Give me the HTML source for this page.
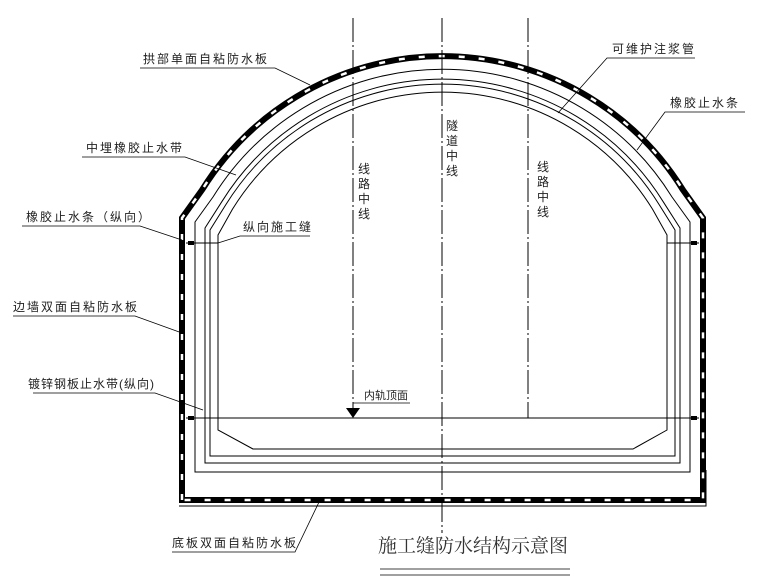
<!DOCTYPE html>
<html><head><meta charset="utf-8"><style>
html,body{margin:0;padding:0;background:#fff;}
svg{display:block;}
text{font-family:"Liberation Sans","Noto Sans CJK SC",sans-serif;font-size:12px;fill:#222;letter-spacing:2px;}
</style></head><body>
<svg width="780" height="585" viewBox="0 0 780 585" xmlns="http://www.w3.org/2000/svg">
<g fill="none" stroke="#000">
<path d="M182,500 L182,218 L202,190 A283,283 0 0 1 683,190 L703,218 L703,500 Z" stroke-width="6"/>
<path d="M182,500 L182,218 L202,190 A283,283 0 0 1 683,190 L703,218 L703,500 Z" stroke="#fff" stroke-width="2.5" stroke-dasharray="6 14"/>
<path d="M179,506 L706,506 L706,470" stroke-width="1"/>
<path d="M195,472 L195,222 L213,197 A270,270 0 0 1 672,197 L690,222 L690,472 Z" stroke-width="1"/>
<path d="M205,463 L205,228 L221.5,202.2 A260,260 0 0 1 663.5,202.2 L680,228 L680,463 Z" stroke-width="1"/>
<path d="M210,456 L210,230 L225.7,204.9 A255,255 0 0 1 659.3,204.9 L675,230 L675,456 Z" stroke-width="1"/>
<path d="M253,449 L218,430 L218,235 L232.5,209.1 A247,247 0 0 1 652.5,209.1 L667,235 L667,430 L633,449 Z" stroke-width="1"/>
<line x1="186" y1="418" x2="699" y2="418" stroke-width="1"/>
<line x1="186" y1="243" x2="218" y2="243" stroke-width="1"/>
<line x1="667" y1="243" x2="699" y2="243" stroke-width="1"/>
<rect x="188" y="416" width="6" height="4" fill="#000" stroke="none"/>
<rect x="691" y="416" width="6" height="4" fill="#000" stroke="none"/>
<rect x="188" y="241" width="6" height="4" fill="#000" stroke="none"/>
<rect x="691" y="241" width="6" height="4" fill="#000" stroke="none"/>
<line x1="353" y1="18" x2="353" y2="410" stroke-width="1" stroke-dasharray="24 3 2 3"/>
<line x1="442" y1="18" x2="442" y2="533" stroke-width="1" stroke-dasharray="24 3 2 3"/>
<line x1="528" y1="18" x2="528" y2="418" stroke-width="1" stroke-dasharray="24 3 2 3"/>
<g stroke-width="0.8">
<polyline points="140,68 275,68 310,85"/>
<polyline points="82,157 185,157 236,175"/>
<polyline points="22,226 140,226 182,240"/>
<polyline points="218,243 240,236 310,236"/>
<polyline points="13,316 135,316 182,333"/>
<polyline points="33,393 155,393 203,410"/>
<polyline points="172,552 295,552 320,500"/>
<polyline points="353,403 410,403"/>
<polyline points="695,58 607,58 558,113"/>
<polyline points="745,112 665,112 637,150"/>
<line x1="380" y1="569" x2="570" y2="569"/>
<line x1="380" y1="575" x2="570" y2="575"/>
</g>
</g>
<polygon points="346,408 360,408 353,418" fill="#000"/>
<g>
<text x="143" y="63">拱部单面自粘防水板</text>
<text x="86" y="152">中埋橡胶止水带</text>
<text x="26" y="221">橡胶止水条（纵向）</text>
<text x="243" y="231">纵向施工缝</text>
<text x="13" y="311">边墙双面自粘防水板</text>
<text x="28" y="388" style="letter-spacing:1px">镀锌钢板止水带(纵向)</text>
<text x="172" y="547">底板双面自粘防水板</text>
<text x="364" y="399" style="font-size:11px;letter-spacing:0">内轨顶面</text>
<text x="612" y="53">可维护注浆管</text>
<text x="670" y="107">橡胶止水条</text>
<text x="358" y="173">线</text><text x="358" y="188">路</text><text x="358" y="203">中</text><text x="358" y="218">线</text>
<text x="446" y="130">隧</text><text x="446" y="145">道</text><text x="446" y="160">中</text><text x="446" y="175">线</text>
<text x="537" y="171">线</text><text x="537" y="186">路</text><text x="537" y="201">中</text><text x="537" y="216">线</text>
<text x="378" y="552" style="font-family:'Liberation Serif','Noto Serif CJK SC',serif;font-size:19px;fill:#333;letter-spacing:0">施工缝防水结构示意图</text>
</g>
</svg>
</body></html>
